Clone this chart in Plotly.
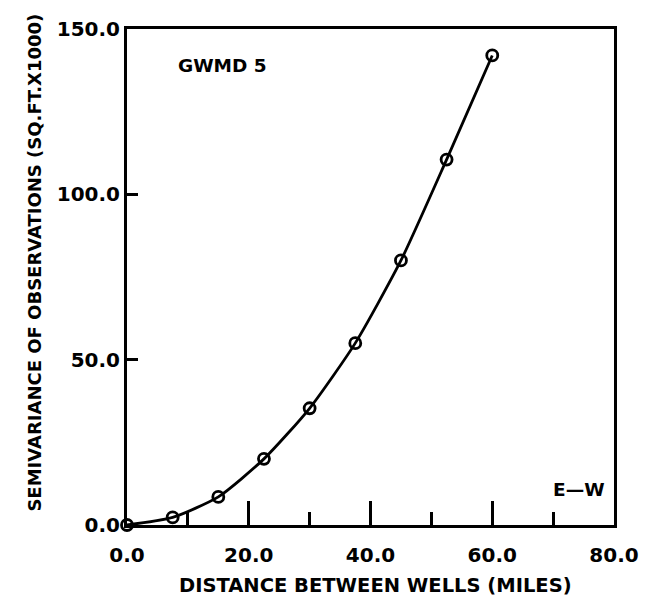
import plotly.graph_objects as go

distance = [0, 7.5, 15, 22.5, 30, 37.5, 45, 52.5, 60]
semivariance = [0, 2.3, 8.5, 20, 35.3, 55, 80, 110.5, 142]
x_tick_vals = [0, 20, 40, 60, 80]
x_tick_text = ["0.0", "20.0", "40.0", "60.0", "80.0"]
x_minor_vals = [10, 30, 50, 70]
y_tick_vals = [0, 50, 100, 150]
y_tick_text = ["0.0", "50.0", "100.0", "150.0"]

FONT = "DejaVu Sans"

fig = go.Figure()
fig.add_trace(go.Scatter(
    x=distance, y=semivariance, mode="lines+markers",
    line=dict(color="black", width=2.8, shape="spline", smoothing=0.6),
    marker=dict(symbol="circle-open", size=11, color="black", line=dict(width=2.8)),
    showlegend=False, cliponaxis=False, hoverinfo="skip",
))

fig.add_annotation(x=0.101, y=0.927, xref="paper", yref="paper", text="<b>GWMD 5</b>",
                   showarrow=False, xanchor="left", yanchor="middle",
                   font=dict(family=FONT, size=18.5, color="black"))
fig.add_annotation(x=0.985, y=0.071, xref="paper", yref="paper", text="<b>E\u2014W</b>",
                   showarrow=False, xanchor="right", yanchor="middle",
                   font=dict(family=FONT, size=18.5, color="black"))
fig.add_annotation(x=0.511, y=-0.121, xref="paper", yref="paper",
                   text="<b>DISTANCE BETWEEN WELLS (MILES)</b>",
                   showarrow=False, xanchor="center", yanchor="middle",
                   font=dict(family=FONT, size=19.5, color="black"))
fig.add_annotation(x=-0.190, y=0.530, xref="paper", yref="paper",
                   text="<b>SEMIVARIANCE OF OBSERVATIONS (SQ.FT.X1000)</b>",
                   showarrow=False, xanchor="center", yanchor="middle", textangle=-90,
                   font=dict(family=FONT, size=18, color="black"))

fig.update_layout(
    width=651, height=600,
    margin=dict(l=127, r=29, t=29, b=75),
    paper_bgcolor="white", plot_bgcolor="white",
    font=dict(family=FONT, color="black"),
    hovermode=False,
    xaxis=dict(
        range=[0, 80], tickmode="array", tickvals=x_tick_vals,
        ticktext=["<b>%s</b>" % t for t in x_tick_text],
        ticks="inside", ticklen=24, tickwidth=2.8, tickcolor="black",
        minor=dict(tickmode="array", tickvals=x_minor_vals, ticks="inside",
                   ticklen=13, tickwidth=2.8, tickcolor="black"),
        showline=True, linecolor="black", linewidth=3, mirror=True,
        showgrid=False, zeroline=False, ticklabelstandoff=10,
        tickfont=dict(family=FONT, size=20, color="black"),
    ),
    yaxis=dict(
        range=[0, 150], tickmode="array", tickvals=y_tick_vals,
        ticktext=["<b>%s</b>" % t for t in y_tick_text],
        ticks="inside", ticklen=11, tickwidth=2.8, tickcolor="black",
        showline=True, linecolor="black", linewidth=3, mirror=True,
        showgrid=False, zeroline=False,
        tickfont=dict(family=FONT, size=20, color="black"),
    ),
)

# remove the default 8px page margin so the figure fills the 651x600 window exactly
fig.write_html("out.html", config={"displayModeBar": False},
               post_script="document.body.style.margin='0';")
